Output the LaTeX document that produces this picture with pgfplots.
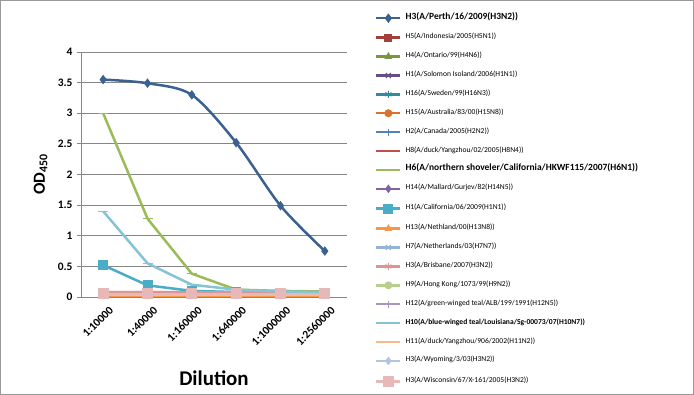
\documentclass[border=0pt]{standalone}
\usepackage{pgfplots}
\pgfplotsset{compat=1.18}
\usepackage{fontspec}
\setmainfont{Carlito}
\definecolor{c1}{HTML}{3B6190}
\definecolor{c2}{HTML}{A33F3C}
\definecolor{c3}{HTML}{7A9640}
\definecolor{c4}{HTML}{664F85}
\definecolor{c5}{HTML}{35899F}
\definecolor{c6}{HTML}{D9732B}
\definecolor{c7}{HTML}{4F81BD}
\definecolor{c8}{HTML}{C0504D}
\definecolor{c9}{HTML}{9BBB59}
\definecolor{c10}{HTML}{8064A2}
\definecolor{c11}{HTML}{4BACC6}
\definecolor{c12}{HTML}{F79646}
\definecolor{c13}{HTML}{95B3D7}
\definecolor{c14}{HTML}{D99694}
\definecolor{c15}{HTML}{B7D08E}
\definecolor{c16}{HTML}{A896C2}
\definecolor{c17}{HTML}{86C3D6}
\definecolor{c18}{HTML}{FAB988}
\definecolor{c19}{HTML}{B4C4E0}
\definecolor{c20}{HTML}{E6B9B8}
\definecolor{gridc}{HTML}{868686}
\pgfplotsset{s/.style 2 args={color=#1, mark=#2, mark options={solid, fill=#1, line width=1bp}}}
\newcommand{\sm}{\fontsize{7.6}{8}\selectfont}
\newcommand{\bg}{\fontsize{9.5}{10}\selectfont\bfseries}
\begin{document}
\begin{tikzpicture}
\useasboundingbox (0,0) rectangle (694bp,395bp);
\draw[gray!80, line width=0.8bp] (0.4bp,0.4bp) rectangle (693.6bp,394.6bp);
\begin{axis}[
  at={(81bp,98bp)}, anchor=south west,
  scale only axis, width=266bp, height=245bp,
  xmin=-0.5, xmax=5.5, ymin=0, ymax=4,
  xtick={0,1,2,3,4,5},
  xticklabels={1:10000,1:40000,1:160000,1:640000,1:1000000,1:2560000},
  ytick={0,0.5,1,1.5,2,2.5,3,3.5,4},
  yticklabels={0,0.5,1,1.5,2,2.5,3,3.5,4},
  axis lines=left, axis line style={-, draw=gridc, line width=0.8bp},
  ymajorgrids, grid style={draw=gridc, line width=0.8bp},
  tick align=outside, major tick length=4bp,
  ytick style={draw=gridc, line width=0.8bp},
  xtick style={draw=none},
  ticklabel style={font=\fontsize{11.5}{12}\selectfont\bfseries},
  yticklabel style={xshift=-1bp},
  xticklabel style={rotate=45, anchor=east, yshift=-11bp, xshift=4bp},
  xlabel={\fontsize{21}{22}\selectfont\bfseries Dilution},
  ylabel={\fontsize{17}{18}\selectfont\bfseries OD\textsubscript{450}},
  every axis x label/.style={at={(axis description cs:0.5,-0.33)}, anchor=center},
  every axis y label/.style={at={(axis description cs:-0.152,0.5)}, anchor=center, rotate=90},
  every axis plot/.append style={line width=2.5bp, mark size=3.5bp},
  legend cell align=left,
  legend style={draw=none, fill=none, at={(axis description cs:1.105,1.155)}, anchor=north west,
    nodes={inner sep=0pt, text height=4.5bp, text depth=2.5bp, font=\sm},
    row sep=11.9bp, column sep=4bp, inner sep=0pt},
  legend image code/.code={\draw[mark repeat=2,mark phase=2] plot coordinates {(0bp,0bp)(12bp,0bp)(24bp,0bp)};},
]
\addplot[s={c1}{diamond*}, smooth, mark size=4bp] coordinates {(0,3.55)(1,3.49)(2,3.30)(3,2.52)(4,1.49)(5,0.75)};
\addlegendentry{\bg H3(A/Perth/16/2009(H3N2))}
\addplot[s={c2}{square*}] coordinates {(0,0.07)(1,0.07)(2,0.07)(3,0.07)(4,0.07)(5,0.06)};
\addlegendentry{H5(A/Indonesia/2005(H5N1))}
\addplot[s={c3}{triangle*}] coordinates {(0,0.05)(1,0.05)(2,0.05)(3,0.05)(4,0.05)(5,0.05)};
\addlegendentry{H4(A/Ontario/99(H4N6))}
\addplot[s={c4}{x}] coordinates {(0,0.05)(1,0.05)(2,0.05)(3,0.05)(4,0.05)(5,0.05)};
\addlegendentry{H1(A/Solomon Isoland/2006(H1N1))}
\addplot[s={c5}{asterisk}] coordinates {(0,0.06)(1,0.06)(2,0.06)(3,0.06)(4,0.06)(5,0.07)};
\addlegendentry{H16(A/Sweden/99(H16N3))}
\addplot[s={c6}{*}] coordinates {(0,0.03)(1,0.03)(2,0.03)(3,0.03)(4,0.03)(5,0.03)};
\addlegendentry{H15(A/Australia/83/00(H15N8))}
\addplot[s={c7}{|}] coordinates {(0,0.05)(1,0.05)(2,0.05)(3,0.05)(4,0.05)(5,0.05)};
\addlegendentry{H2(A/Canada/2005(H2N2))}
\addplot[s={c8}{-}] coordinates {(0,0.08)(1,0.08)(2,0.08)(3,0.08)(4,0.07)(5,0.07)};
\addlegendentry{H8(A/duck/Yangzhou/02/2005(H8N4))}
\addplot[s={c9}{-}, mark size=5bp] coordinates {(0,3.00)(1,1.28)(2,0.38)(3,0.12)(4,0.10)(5,0.09)};
\addlegendentry{\bg H6(A/northern shoveler/California/HKWF115/2007(H6N1))}
\addplot[s={c10}{diamond*}] coordinates {(0,0.05)(1,0.05)(2,0.05)(3,0.05)(4,0.05)(5,0.05)};
\addlegendentry{H14(A/Mallard/Gurjev/82(H14N5))}
\addplot[s={c11}{square*}, mark size=4.5bp] coordinates {(0,0.52)(1,0.19)(2,0.10)(3,0.08)(4,0.07)(5,0.07)};
\addlegendentry{H1(A/California/06/2009(H1N1))}
\addplot[s={c12}{triangle*}] coordinates {(0,0.01)(1,0.01)(2,0.01)(3,0.01)(4,0.01)(5,0.01)};
\addlegendentry{H13(A/Nethland/00(H13N8))}
\addplot[s={c13}{x}] coordinates {(0,0.06)(1,0.06)(2,0.06)(3,0.06)(4,0.06)(5,0.06)};
\addlegendentry{H7(A/Netherlands/03(H7N7))}
\addplot[s={c14}{asterisk}] coordinates {(0,0.07)(1,0.07)(2,0.07)(3,0.07)(4,0.07)(5,0.07)};
\addlegendentry{H3(A/Brisbane/2007(H3N2))}
\addplot[s={c15}{*}] coordinates {(0,0.05)(1,0.05)(2,0.05)(3,0.05)(4,0.05)(5,0.05)};
\addlegendentry{H9(A/Hong Kong/1073/99(H9N2))}
\addplot[s={c16}{|}] coordinates {(0,0.05)(1,0.05)(2,0.05)(3,0.05)(4,0.05)(5,0.05)};
\addlegendentry{H12(A/green-winged teal/ALB/199/1991(H12N5))}
\addplot[s={c17}{-}, mark size=5bp] coordinates {(0,1.40)(1,0.55)(2,0.20)(3,0.12)(4,0.09)(5,0.08)};
\addlegendentry{\bfseries H10(A/blue-winged teal/Louisiana/Sg-00073/07(H10N7))}
\addplot[s={c18}{-}] coordinates {(0,0.03)(1,0.03)(2,0.03)(3,0.03)(4,0.03)(5,0.03)};
\addlegendentry{H11(A/duck/Yangzhou/906/2002(H11N2))}
\addplot[s={c19}{diamond*}] coordinates {(0,0.05)(1,0.05)(2,0.05)(3,0.05)(4,0.05)(5,0.05)};
\addlegendentry{H3(A/Wyoming/3/03(H3N2))}
\addplot[s={c20}{square*}, mark size=5bp] coordinates {(0,0.05)(1,0.05)(2,0.05)(3,0.05)(4,0.05)(5,0.05)};
\addlegendentry{H3(A/Wisconsin/67/X-161/2005(H3N2))}
\end{axis}
\end{tikzpicture}
\end{document}
